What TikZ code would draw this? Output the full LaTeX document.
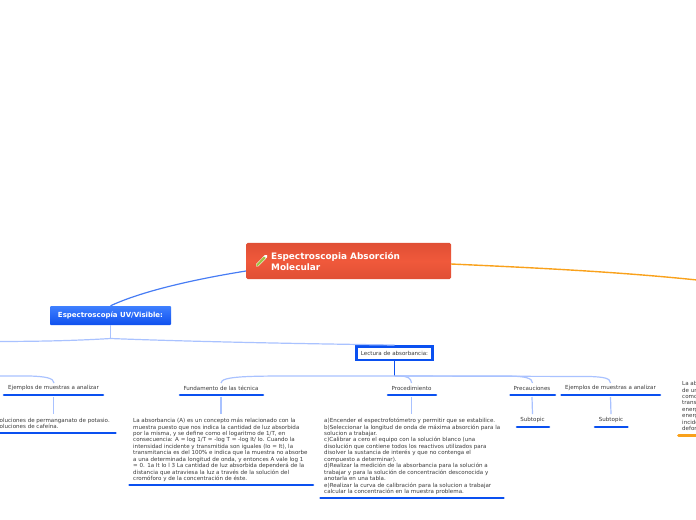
\documentclass[tikz,border=0pt]{standalone}
\usepackage{fontspec}
\setmainfont{DejaVu Sans}
\definecolor{linkb}{HTML}{A9C2FF}
\definecolor{ublue}{HTML}{0A50F0}
\definecolor{uorange}{HTML}{F9A11B}
\definecolor{txt}{HTML}{3A3A3A}
\definecolor{rootedge}{HTML}{E04F35}
\definecolor{rootmid}{HTML}{F0593B}
\definecolor{uvtop}{HTML}{3F80FF}
\definecolor{uvbot}{HTML}{0F50EE}
\definecolor{tube}{HTML}{A0C040}
\newcommand{\smalltxt}{\fontsize{5.55bp}{6.45bp}\selectfont}
\tikzset{
  x=1bp,y=-1bp,
  label/.style={inner sep=0pt,text=txt,font=\smalltxt},
  para/.style={inner sep=0pt,text=txt,font=\smalltxt,anchor=north west,align=left},
  link/.style={draw=linkb,line width=1.2bp},
  under/.style={draw=ublue,line width=2.6bp,line cap=round},
  uoor/.style={draw=uorange,line width=2.6bp,line cap=round},
}
\begin{document}
\begin{tikzpicture}
\useasboundingbox (0,0) rectangle (696,520);
\clip (0,0) rectangle (696,520);
% main nodes
\node[rounded corners=1.5bp,inner sep=0pt,minimum width=205bp,minimum height=36bp,top color=rootedge,bottom color=rootedge,middle color=rootmid] (root) at (348.5,261) {};
\node[inner sep=0pt,anchor=north west,align=left,text=white,font=\fontsize{8.9bp}{11bp}\selectfont\bfseries] (roottxt) at (271,252.3) {Espectroscopia Absorción\\Molecular};
\draw[draw=white,line width=3.2bp,line cap=round] (257.2,265.2) -- (266,256.2);
\draw[draw=tube,line width=2.2bp,line cap=round] (257.2,265.2) -- (264.5,257.7);
\node[rounded corners=1bp,inner sep=0pt,minimum width=121bp,minimum height=19bp,top color=uvtop,bottom color=uvbot] (uv) at (110.5,315.5) {};
\node[inner sep=0pt,text=white,font=\fontsize{7bp}{8bp}\selectfont\bfseries] (uvtxt) at (110.5,315.5) {Espectroscopía UV/Visible:};
\node[draw=ublue,line width=2.5bp,inner sep=0pt,minimum width=76bp,minimum height=13.5bp,fill=white,text=txt,font=\smalltxt] (lect) at (394.5,353) {Lectura de absorbancia:};
% free ends
\coordinate (right) at (697,280);
\coordinate (uvhub) at (110.5,338.5);
\coordinate (lhub) at (394.5,376);
\coordinate (leftend) at (-10,341.5);
\coordinate (leftbr) at (-10,376);
\coordinate (rootl) at (246,271);
\coordinate (rootr) at (451,264);
% headings
\node[label] (ej1) at (53.5,388) {Ejemplos de muestras a analizar};
\node[label] (fund) at (221,388) {Fundamento de las técnica};
\node[label] (proc) at (411.5,388) {Procedimiento};
\node[label] (prec) at (532,388) {Precauciones};
\node[label] (ej2) at (610.5,388) {Ejemplos de muestras a analizar};
\node[label] (sub1) at (532.5,420) {Subtopic};
\node[label] (sub2) at (611,420) {Subtopic};
% paragraphs
\node[para] (ptxt1) at (-4,418) {Soluciones de permanganato de potasio.\\Soluciones de cafeína.};
\node[para] (ptxt2) at (133,418) {La absorbancia (A) es un concepto más relacionado con la\\muestra puesto que nos indica la cantidad de luz absorbida\\por la misma, y se define como el logaritmo de 1/T, en\\consecuencia: A = log 1/T = -log T = -log It/ Io. Cuando la\\intensidad incidente y transmitida son iguales (Io = It), la\\transmitancia es del 100\% e indica que la muestra no absorbe\\a una determinada longitud de onda, y entonces A vale log 1\\= 0. 1a It Io l 3 La cantidad de luz absorbida dependerá de la\\distancia que atraviesa la luz a través de la solución del\\cromóforo y de la concentración de éste.};
\node[para] (ptxt3) at (324,418) {a)Encender el espectrofotómetro y permitir que se estabilice.\\b)Seleccionar la longitud de onda de máxima absorción para la\\solucion a trabajar.\\c)Calibrar a cero el equipo con la solución blanco (una\\disolución que contiene todos los reactivos utilizados para\\disolver la sustancia de interés y que no contenga el\\compuesto a determinar).\\d)Realizar la medición de la absorbancia para la solución a\\trabajar y para la solución de concentración desconocida y\\anotarla en una tabla.\\e)Realizar la curva de calibración para la solucion a trabajar\\calcular la concentración en la muestra problema.};
\node[para] (ptxt4) at (682,381) {La absorción\\de una\\como\\transición\\energía\\energía\\incidente\\deformación};
% underlines
\draw[under] (4,395) -- (103,395);
\draw[under] (180,395) -- (263,395);
\draw[under] (388,395) -- (436,395);
\draw[under] (510.5,395) -- (555,395);
\draw[under] (561.5,395) -- (660,395);
\draw[under] (517,427) -- (549,427);
\draw[under] (595,427) -- (627.5,427);
\draw[under] (-5,433) -- (115.5,433);
\draw[under] (129.5,485) -- (313,485);
\draw[under] (320.5,498) -- (503.5,498);
\draw[uoor] (678.5,435.5) -- (700,435.5);
% connectors
\draw[draw=ublue!75!white,line width=1.2bp] (rootl) .. controls (190,280) and (140,292) .. (uv.north);
\draw[draw=uorange,line width=1.4bp] (rootr) .. controls (540,268) and (620,272) .. (right);
\draw[link] (uv.south) -- (uvhub);
\draw[link] (uvhub) .. controls (70,341) and (30,341.5) .. (leftend);
\draw[link] (uvhub) .. controls (200,342) and (320,344) .. (lect.north);
\draw[draw=ublue,line width=1.2bp] (lect.south) -- (lhub);
\draw[link] (lhub) -- (300,376) .. controls (250,376) and (221,376) .. (221,383);
\draw[link] (lhub) -- (400,376) .. controls (408,376.5) and (411,378) .. (411.5,383);
\draw[link] (lhub) -- (510,376) .. controls (525,376.5) and (532.5,378) .. (532.5,383);
\draw[link] (lhub) -- (590,376.5) .. controls (603,377) and (610.5,378) .. (610.5,383);
\draw[link] (leftbr) -- (30,376) .. controls (45,376.5) and (54,378) .. (54,383);
\draw[link] ([yshift=-9bp]ej1.center) -- ([yshift=-26bp]ej1.center);
\draw[link] ([yshift=-9bp]fund.center) -- ([yshift=-26bp]fund.center);
\draw[link] ([yshift=-9bp]proc.center) -- ([yshift=-26bp]proc.center);
\draw[link] ([yshift=-9bp]prec.center) -- ([yshift=3bp]sub1.north);
\draw[link] ([yshift=-9bp]ej2.center) -- ([yshift=3bp]sub2.north);
\end{tikzpicture}
\end{document}
